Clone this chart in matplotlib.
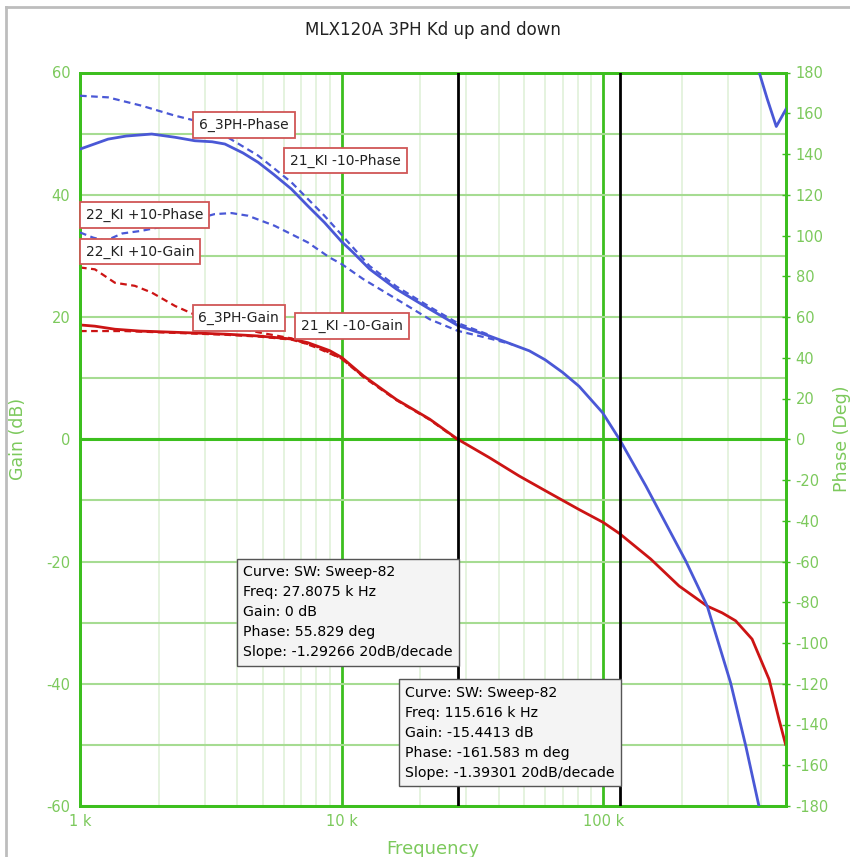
import matplotlib
matplotlib.use("Agg")
import matplotlib.pyplot as plt
import matplotlib.ticker as mticker
from matplotlib.lines import Line2D
import numpy as np

# ---- sweep data (freq in Hz, gain in dB, phase in deg) ----
# SW: Sweep-82  (21_KI -10)
f_gain_21 = [1000, 1140, 1360, 1700, 2310, 3580, 4800, 6430, 7430, 9000, 10000,
             12100, 16200, 21700, 27807.5, 36700, 47700, 60000, 80900, 100000,
             115616, 152000, 195000, 250000, 285000, 321000, 371000, 431000,
             470000, 498000]
gain_21 = [18.7, 18.5, 18.0, 17.7, 17.5, 17.2, 16.9, 16.4, 15.8, 14.5, 13.4,
           10.4, 6.5, 3.3, 0.0, -3.0, -6.0, -8.4, -11.5, -13.6,
           -15.4413, -19.6, -24.0, -27.3, -28.4, -29.7, -32.7, -39.3,
           -45.8, -49.9]

f_phase_21 = [1000, 1140, 1280, 1500, 1880, 2310, 2750, 3200, 3580, 4200, 4800,
              5500, 6430, 7430, 8600, 10000, 11000, 12800, 16200, 21700,
              27807.5, 36700, 45000, 52200, 60000, 70000, 80900, 99400,
              115616, 145600, 207000, 250000, 307000, 351000, 394000]
phase_21 = [142.4, 145.0, 147.3, 148.8, 149.8, 148.2, 146.5, 146.0, 144.9, 140.5, 135.9,
            130.0, 122.8, 114.5, 106.4, 97.0, 92.0, 83.5, 73.7, 63.9,
            55.829, 50.7, 46.5, 43.4, 39.0, 32.8, 26.0, 13.1,
            -0.161583, -22.9, -59.8, -81.9, -119.5, -150.6, -180.0]
# phase wraps past -180 and comes back in at the top
f_phase_21_wrap = [395000, 424000, 459000, 500000]
phase_21_wrap = [180.0, 167.0, 153.5, 162.0]

# 6_3PH
f_gain_6 = [1000, 1480, 2310, 3580, 4800, 6430, 8000, 10000, 12100, 16200, 21700, 27800]
gain_6 = [17.7, 17.7, 17.4, 17.1, 16.8, 16.3, 15.2, 13.2, 10.2, 6.4, 3.2, -0.1]
f_phase_6 = [1000, 1280, 1720, 2310, 2750, 3580, 4800, 6430, 8600, 10900,
             12800, 16200, 21700, 27800, 36700]
phase_6 = [168.6, 167.8, 163.7, 158.8, 156.4, 149.0, 139.2, 126.1, 109.7, 95.0,
           85.0, 75.0, 65.0, 57.0, 51.2]

# 22_KI +10
f_gain_22 = [1000, 1140, 1360, 1620, 1880, 2310, 2910, 3580, 4800, 6430, 8000,
             10000, 12100]
gain_22 = [28.1, 27.8, 25.6, 25.1, 24.0, 21.8, 19.9, 18.8, 17.5, 16.5, 15.0,
           13.2, 10.3]
f_phase_22 = [1000, 1120, 1250, 1450, 1720, 2000, 2600, 3270, 3800, 4390, 5540,
              7430, 9000, 10000, 12100, 16200, 21700, 27800, 36700, 45000]
phase_22 = [101.5, 99.0, 97.4, 101.0, 102.3, 104.0, 107.0, 110.5, 111.0, 109.7, 104.8,
            96.6, 89.2, 86.0, 78.6, 68.8, 58.9, 53.2, 49.5, 46.5]

# curve tags
tag_names = ["6_3PH-Phase", "21_KI -10-Phase", "22_KI +10-Phase",
             "22_KI +10-Gain", "6_3PH-Gain", "21_KI -10-Gain"]
tag_xy = [(2720, 51.4), (6050, 45.6), (1000, 36.7),
          (1000, 30.7), (2700, 19.8), (6670, 18.5)]

# cursor readouts
cursor_curve = "SW: Sweep-82"
cursor_freq_khz = [27.8075, 115.616]
cursor_gain = [0, -15.4413]
cursor_phase = [55.829, -0.161583]
cursor_slope = [-1.29266, -1.39301]
cursor_box_y = [-28.3, -48.0]

GREEN = "#3cbf1e"
LIGHT_GREEN = "#7cc95c"
GRID_GREEN = "#a6dc92"
MINOR_GREEN = "#e3f2dc"
BLUE = "#4a58d6"
RED = "#cc1414"

plt.rcParams['font.family'] = ['DejaVu Sans']
plt.rcParams['axes.unicode_minus'] = False

fig = plt.figure(figsize=(8.5, 8.57), dpi=100)
fig.patch.set_facecolor("white")

# window edge
fig.add_artist(Line2D([6/850, 6/850], [0, 1 - 7/857], transform=fig.transFigure,
                      color="#bdbdbd", lw=2))
fig.add_artist(Line2D([6/850, 1], [1 - 7/857, 1 - 7/857], transform=fig.transFigure,
                      color="#bdbdbd", lw=2))

ax = fig.add_axes([80/850, 1 - 806/857, 706/850, 733.5/857])
ax.set_xscale("log")
ax.set_xlim(1e3, 5e5)
ax.set_ylim(-60, 60)

ax.set_xticks([1e3, 1e4, 1e5])
ax.set_xticklabels(["1 k", "10 k", "100 k"])
ax.xaxis.set_minor_locator(mticker.LogLocator(base=10, subs=np.arange(2, 10)))
ax.xaxis.set_minor_formatter(mticker.NullFormatter())
ax.set_yticks(np.arange(-60, 61, 20))
ax.set_yticks(np.arange(-60, 61, 10), minor=True)
ax.tick_params(which="both", length=0)
ax.tick_params(axis="y", pad=7, labelsize=10.5, labelcolor=LIGHT_GREEN)
ax.tick_params(axis="x", pad=6, labelsize=10.5, labelcolor=LIGHT_GREEN)

ax.grid(which="minor", axis="x", color=MINOR_GREEN, lw=1.3)
ax.grid(which="major", axis="x", color=GREEN, lw=2)
ax.grid(which="both", axis="y", color=GRID_GREEN, lw=1.5)
ax.axhline(0, color=GREEN, lw=2.2, zorder=1)
ax.set_axisbelow(True)

for s in ax.spines.values():
    s.set_color(GREEN)
    s.set_linewidth(2)

ax.set_xlabel("Frequency", color=LIGHT_GREEN, fontsize=13, labelpad=8)
ax.set_ylabel("Gain (dB)", color=LIGHT_GREEN, fontsize=12.5)
ax.yaxis.set_label_coords(-53/706, 0.5)

ax2 = ax.twinx()
ax2.set_ylim(-180, 180)
ax2.set_yticks(np.arange(-180, 181, 20))
ax2.tick_params(axis="y", direction="inout", length=6, width=1, color=GREEN,
                pad=4, labelsize=10.5, labelcolor=LIGHT_GREEN)
ax2.set_ylabel("Phase (Deg)", color=LIGHT_GREEN, fontsize=12.5)
ax2.yaxis.set_label_coords(1 + 47/706, 0.5)
for s in ax2.spines.values():
    s.set_color(GREEN)
    s.set_linewidth(2)

dash = (3, 2)
# gain traces
ax.plot(f_gain_6, gain_6, color=RED, lw=1.6, dashes=dash, zorder=3)
ax.plot(f_gain_22, gain_22, color=RED, lw=1.6, dashes=dash, zorder=3)
ax.plot(f_gain_21, gain_21, color=RED, lw=2.0, zorder=4)
# phase traces
ax2.plot(f_phase_6, phase_6, color=BLUE, lw=1.6, dashes=dash, zorder=3)
ax2.plot(f_phase_22, phase_22, color=BLUE, lw=1.6, dashes=dash, zorder=3)
ax2.plot(f_phase_21, phase_21, color=BLUE, lw=2.0, zorder=4)
ax2.plot(f_phase_21_wrap, phase_21_wrap, color=BLUE, lw=2.0, zorder=4)

# cursors
for fk in cursor_freq_khz:
    ax2.axvline(fk * 1e3, color="black", lw=2, zorder=5)

# curve tags
for name, (fx, gy) in zip(tag_names, tag_xy):
    ax2.annotate(name, xy=(fx, gy * 3), xytext=(4, 0), textcoords="offset points",
                 ha="left", va="center", fontsize=10, color="#222222", zorder=8,
                 bbox=dict(boxstyle="square,pad=0.42", fc="white", ec="#d05656", lw=1.3))


def fmt_phase(p):
    if abs(p) < 1:
        return f"{p * 1000:g} m deg"
    return f"{p:g} deg"


fs = 10.2
for fk, g, p, sl, by in zip(cursor_freq_khz, cursor_gain, cursor_phase,
                            cursor_slope, cursor_box_y):
    txt = "\n".join([f"Curve: {cursor_curve}",
                     f"Freq: {fk:g} k Hz",
                     f"Gain: {g:g} dB",
                     f"Phase: {fmt_phase(p)}",
                     f"Slope: {sl:g} 20dB/decade"])
    ax2.annotate(txt, xy=(fk * 1e3, by * 3), xytext=(-0.45 * fs + 1, 0),
                 textcoords="offset points", ha="right", va="center",
                 multialignment="left",
                 fontsize=fs, linespacing=1.55, color="black", zorder=9,
                 bbox=dict(boxstyle="square,pad=0.45", fc="#f4f4f4", ec="#555555", lw=1))

fig.text(433/850, 1 - 30/857, "MLX120A 3PH Kd up and down", ha="center", va="center",
         fontsize=12, color="#222222")

fig.savefig("out.png", dpi=100)
